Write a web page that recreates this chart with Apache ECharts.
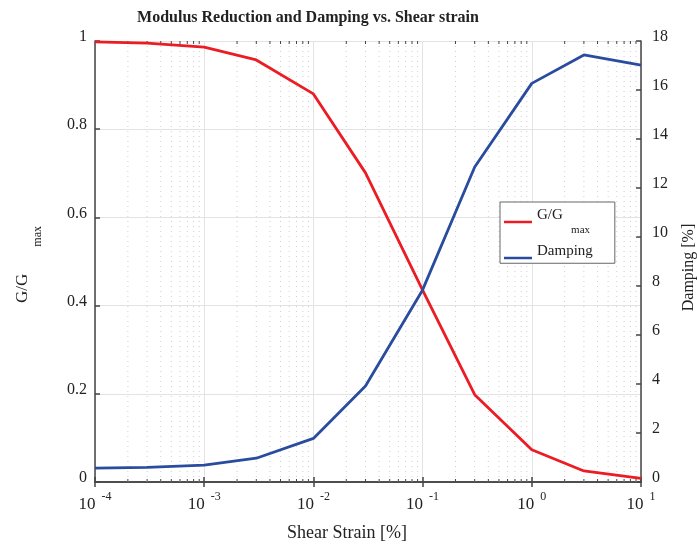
<!DOCTYPE html>
<html><head><meta charset="utf-8">
<script src="https://cdn.jsdelivr.net/npm/echarts@6/dist/echarts.min.js"></script>
<style>html,body{margin:0;padding:0;background:#fff}#c{width:697px;height:545px}</style>
</head><body><div id="c"></div>
<script>
var strain = [1e-4, 3e-4, 1e-3, 3e-3, 1e-2, 3e-2, 1e-1, 3e-1, 1, 3, 10];
var ggmax = [0.998, 0.995, 0.986, 0.957, 0.880, 0.701, 0.435, 0.198, 0.073, 0.025, 0.008];
var damping = [0.57, 0.60, 0.69, 0.97, 1.78, 3.92, 7.84, 12.86, 16.27, 17.43, 17.02];
var minorMult = [2, 3, 4, 5, 6, 7, 8, 9];
var decades = [1e-4, 1e-3, 1e-2, 1e-1, 1];

var minorVals = [];
decades.forEach(function (d) { minorMult.forEach(function (m) { minorVals.push([d * m]); }); });

var FONT = 'Liberation Serif';
var AX = '#444';

var chart = echarts.init(document.getElementById('c'), null, {renderer: 'canvas'});
chart.setOption({
  animation: false,
  backgroundColor: '#fff',
  textStyle: {fontFamily: FONT},
  title: {
    text: 'Modulus Reduction and Damping vs. Shear strain',
    left: 303, top: 5, textAlign: 'center',
    textStyle: {fontFamily: FONT, fontWeight: 'bold', fontSize: 16, color: '#222'}
  },
  grid: {left: 95, right: 56, top: 41, bottom: 63, containLabel: false, outerBoundsMode: 'none'},
  legend: {
    orient: 'vertical', left: 500, top: 202,
    data: ['G/Gmax', 'Damping'],
    backgroundColor: '#fff', borderColor: '#666', borderWidth: 1,
    padding: [6, 22, 4, 4], itemGap: 8,
    icon: 'rect', itemWidth: 28, itemHeight: 2.5,
    formatter: function (n) { return n === 'G/Gmax' ? '{m|G/G}{s|   max}' : '{m|Damping}'; },
    textStyle: {
      fontFamily: FONT, color: '#222',
      rich: {
        m: {fontFamily: FONT, fontSize: 15, lineHeight: 28, verticalAlign: 'top', color: '#222'},
        s: {fontFamily: FONT, fontSize: 11, lineHeight: 28, verticalAlign: 'bottom', color: '#222'}
      }
    }
  },
  xAxis: [{
    type: 'log', logBase: 10, min: 1e-4, max: 10, position: 'bottom',
    name: 'Shear Strain [%]', nameLocation: 'middle', nameGap: 42, nameMoveOverlap: false,
    nameTextStyle: {fontFamily: FONT, fontSize: 18, color: '#222', padding: [0, 42, 0, 0]},
    axisLine: {show: true, lineStyle: {color: AX, width: 1.5}},
    axisTick: {show: true, inside: true, length: 5, lineStyle: {color: AX, width: 1.5}},
    splitLine: {show: true, lineStyle: {color: '#e3e3e3', width: 1}},
    axisLabel: {
      margin: 9,
      formatter: function (v) { var e = Math.round(Math.log10(v)); return '{b|10}{s|  ' + e + '}'; },
      rich: {
        b: {fontFamily: FONT, fontSize: 17, lineHeight: 22, verticalAlign: 'bottom', color: '#222'},
        s: {fontFamily: FONT, fontSize: 12, lineHeight: 22, verticalAlign: 'top', color: '#222'}
      }
    }
  }, {
    type: 'log', logBase: 10, min: 1e-4, max: 10, position: 'top',
    axisLine: {show: true, lineStyle: {color: AX, width: 1.5}},
    axisTick: {show: true, inside: true, length: 5, lineStyle: {color: AX, width: 1.5}},
    axisLabel: {show: false}, splitLine: {show: false}
  }],
  yAxis: [{
    type: 'value', min: 0, max: 1, interval: 0.2, position: 'left',
    name: '{m|G/G}{s|         max}', nameLocation: 'middle', nameGap: 51, nameRotate: 90,
    nameTextStyle: {
      fontFamily: FONT, fontSize: 17, color: '#222', padding: [0, 6, 0, 0],
      rich: {
        m: {fontFamily: FONT, fontSize: 17, color: '#222', lineHeight: 30, verticalAlign: 'top'},
        s: {fontFamily: FONT, fontSize: 12, color: '#222', lineHeight: 30, verticalAlign: 'bottom'}
      }
    },
    axisLine: {show: true, lineStyle: {color: AX, width: 1.5}},
    axisTick: {show: true, inside: true, length: 5, lineStyle: {color: AX, width: 1.5}},
    splitLine: {show: true, lineStyle: {color: '#e3e3e3', width: 1}},
    axisLabel: {
      margin: 8, fontFamily: FONT, fontSize: 16, color: '#222', verticalAlign: 'bottom', lineHeight: 8,
      formatter: function (v) { return (v === 0 || v === 1) ? String(v) : v.toFixed(1); }
    }
  }, {
    type: 'value', min: 0, max: 18, interval: 2, position: 'right',
    name: 'Damping [%]', nameLocation: 'middle', nameGap: 40, nameRotate: 90,
    nameTextStyle: {fontFamily: FONT, fontSize: 16, color: '#222', padding: [0, 12, 0, 0]},
    axisLine: {show: true, lineStyle: {color: AX, width: 1.5}},
    axisTick: {show: true, inside: true, length: 5, lineStyle: {color: AX, width: 1.5}},
    splitLine: {show: false},
    axisLabel: {margin: 11, fontFamily: FONT, fontSize: 16, color: '#222', verticalAlign: 'bottom', lineHeight: 8}
  }],
  series: [{
    type: 'custom', name: 'minor', xAxisIndex: 0, yAxisIndex: 0, silent: true, z: 1,
    data: minorVals,
    renderItem: function (params, api) {
      var v = api.value(0);
      var p0 = api.coord([v, 0]);
      var p1 = api.coord([v, 1]);
      return {type: 'group', children: [
        {type: 'line', shape: {x1: p0[0], y1: p0[1], x2: p1[0], y2: p1[1]},
         style: {stroke: '#d0d0d0', lineWidth: 1, lineDash: [1, 4]}},
        {type: 'line', shape: {x1: p0[0], y1: p0[1], x2: p0[0], y2: p0[1] - 3},
         style: {stroke: AX, lineWidth: 1}},
        {type: 'line', shape: {x1: p1[0], y1: p1[1], x2: p1[0], y2: p1[1] + 3},
         style: {stroke: AX, lineWidth: 1}}
      ]};
    }
  }, {
    type: 'line', name: 'G/Gmax', xAxisIndex: 0, yAxisIndex: 0, z: 5,
    data: strain.map(function (x, i) { return [x, ggmax[i]]; }),
    showSymbol: false, symbol: 'none',
    lineStyle: {color: '#ec1c24', width: 2.8}, itemStyle: {color: '#ec1c24'}
  }, {
    type: 'line', name: 'Damping', xAxisIndex: 0, yAxisIndex: 1, z: 5,
    data: strain.map(function (x, i) { return [x, damping[i]]; }),
    showSymbol: false, symbol: 'none',
    lineStyle: {color: '#2a4c9f', width: 2.8}, itemStyle: {color: '#2a4c9f'}
  }]
});
</script></body></html>
